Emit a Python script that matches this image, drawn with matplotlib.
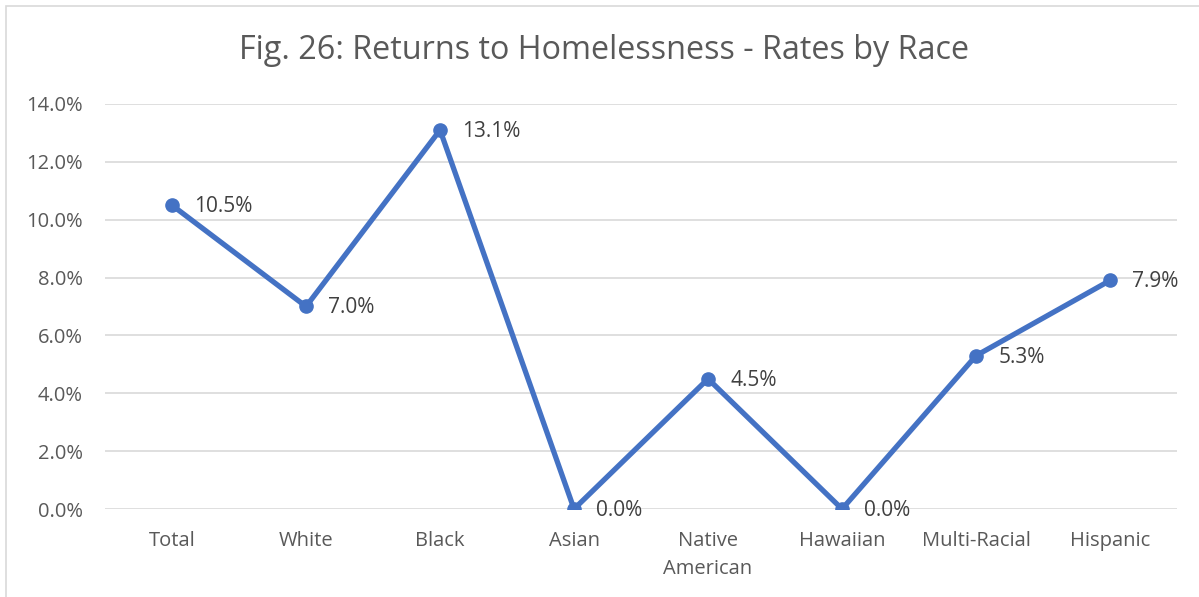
import matplotlib.pyplot as plt
from matplotlib.patches import Rectangle
from matplotlib.ticker import PercentFormatter

# Rates of return to homelessness by race
races = ['Total', 'White', 'Black', 'Asian', 'Native\nAmerican',
         'Hawaiian', 'Multi-Racial', 'Hispanic']
rates = [10.5, 7.0, 13.1, 0.0, 4.5, 0.0, 5.3, 7.9]
y_ticks = [0, 2, 4, 6, 8, 10, 12, 14]

plt.rcParams['font.family'] = ['Open Sans', 'DejaVu Sans']

fig = plt.figure(figsize=(11.99, 5.97), dpi=100)
ax = fig.add_axes([0.0876, 0.1474, 0.8941, 0.6784])

# chart border
fig.patches.append(Rectangle((0.005, -0.01), 1.0, 1.0,
                             transform=fig.transFigure, fill=False,
                             edgecolor='#D9D9D9', lw=1.2))

x = range(len(races))
ax.plot(x, rates, color='#4472C4', lw=3.8, marker='o', markersize=9.5,
        solid_joinstyle='miter', zorder=3)

for i, v in enumerate(rates):
    ax.annotate(f'{v:.1f}%', (i, v), xytext=(16, -1), textcoords='offset points',
                va='center', ha='left', fontsize=15, color='#404040', zorder=4)

ax.set_xlim(-0.5, len(races) - 0.5)
ax.set_ylim(0, 14)
ax.set_yticks(y_ticks)
ax.yaxis.set_major_formatter(PercentFormatter(decimals=1))
ax.set_xticks(list(x))
ax.set_xticklabels(races, linespacing=1.55)
ax.grid(axis='y', color='#D9D9D9', lw=1.2)
ax.set_axisbelow(True)
for s in ax.spines.values():
    s.set_visible(False)
ax.tick_params(length=0, labelsize=14.5, labelcolor='#595959')
ax.tick_params(axis='x', pad=16)
ax.tick_params(axis='y', pad=16)

fig.text(0.504, 0.915, 'Fig. 26: Returns to Homelessness - Rates by Race',
         ha='center', va='center', fontsize=23.3, color='#595959')

fig.savefig('out.png', dpi=100)
